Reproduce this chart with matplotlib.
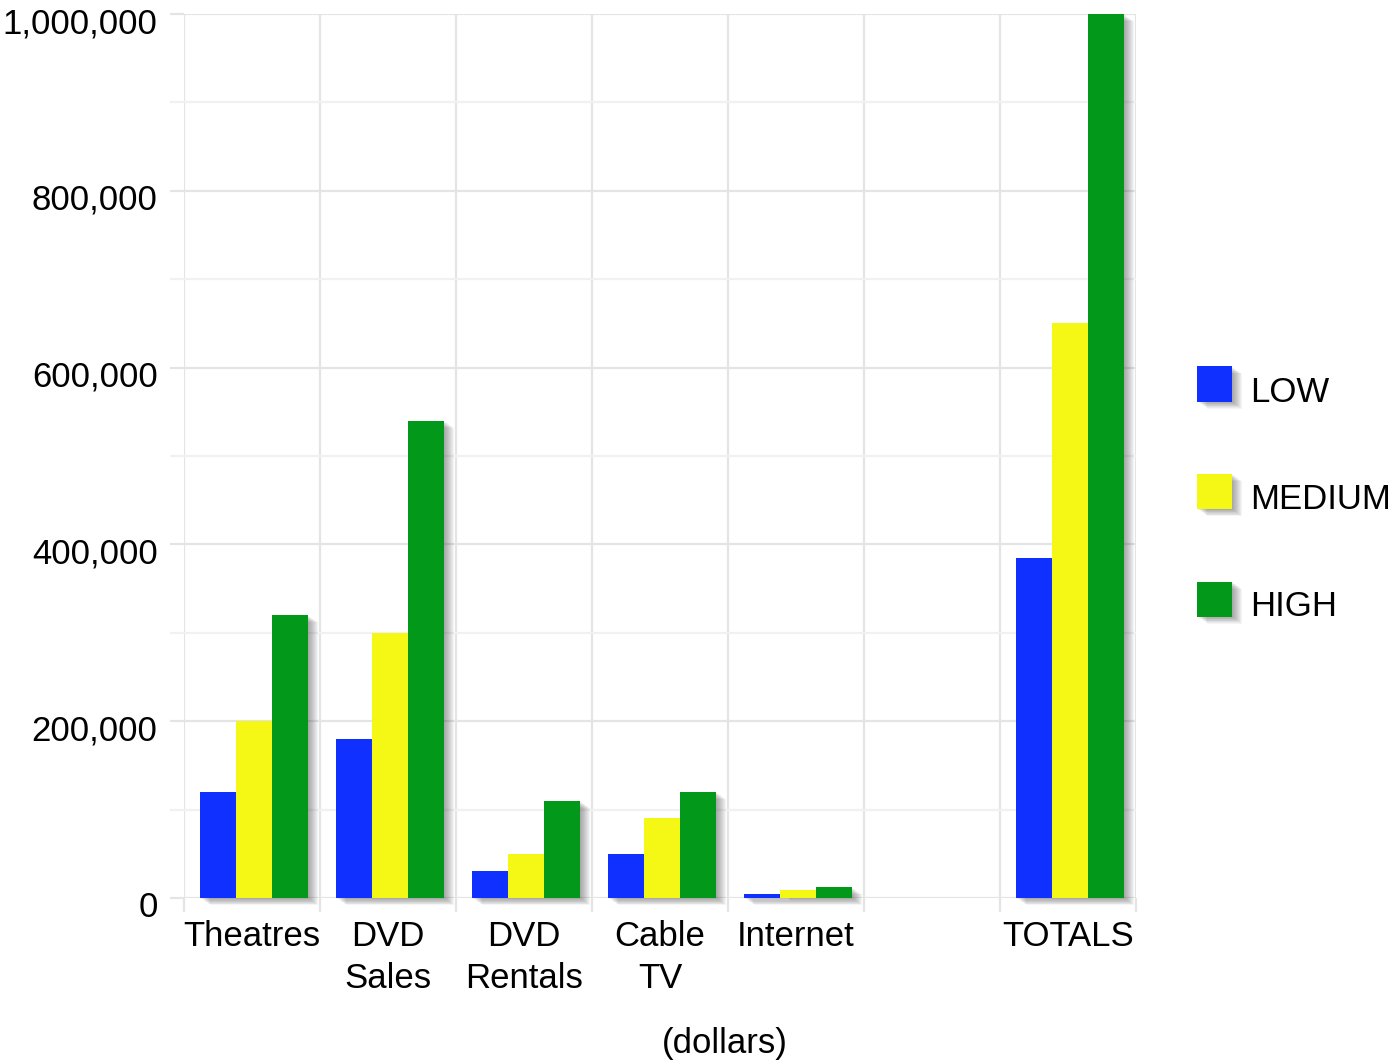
import matplotlib
matplotlib.use("Agg")
import matplotlib.pyplot as plt
import numpy as np
from matplotlib.patches import Rectangle
from matplotlib.transforms import ScaledTranslation
from matplotlib.ticker import FuncFormatter, MultipleLocator


categories = ["Theatres", "DVD\nSales", "DVD\nRentals", "Cable\nTV", "Internet", "", "TOTALS"]
series = ["LOW", "MEDIUM", "HIGH"]
low = [120000, 180000, 30000, 50000, 5000, 0, 385000]
medium = [200000, 300000, 50000, 90000, 9000, 0, 650000]
high = [320000, 540000, 110000, 120000, 12000, 0, 1000000]
colors = ["#1030ff", "#f4f814", "#02991a"]

plt.rcParams["font.family"] = ["Liberation Sans", "DejaVu Sans"]
plt.rcParams["font.size"] = 25

W, H = 1392, 1064
fig = plt.figure(figsize=(W / 100, H / 100), dpi=100)
ax = fig.add_axes([184 / W, 1 - 898 / H, (1136 - 184) / W, (898 - 14) / H])

x = np.arange(len(categories))
bw = 0.265
shift = 0.015


def shadow(xy, w, h, base, zorder, parent):
    # soft drop shadow: stacked offset copies with low alpha
    for k in range(1, 11):
        off = ScaledTranslation(k / 100, -0.7 * k / 100, fig.dpi_scale_trans)
        s = Rectangle(xy, w, h, transform=base + off, facecolor="#404040",
                      edgecolor="none", alpha=0.055, zorder=zorder, clip_on=False)
        parent.add_artist(s)


ax.set_xlim(-0.5, len(categories) - 0.5)
ax.set_ylim(0, 1000000)

for j, (vals, c) in enumerate(zip([low, medium, high], colors)):
    pos = x + shift + (j - 1) * bw
    bars = ax.bar(pos, vals, width=bw, color=c, edgecolor="none", zorder=3)
    for b in bars:
        if b.get_height() > 0:
            shadow(b.get_xy(), b.get_width(), b.get_height(), ax.transData, 2, ax)

ax.set_xlim(-0.5, len(categories) - 0.5)
ax.set_ylim(0, 1000000)

ax.yaxis.set_major_locator(MultipleLocator(200000))
ax.yaxis.set_minor_locator(MultipleLocator(100000))
ax.yaxis.set_major_formatter(FuncFormatter(lambda v, p: f"{int(v):,}"))
ax.set_xticks(x)
ax.set_xticklabels(categories, linespacing=1.35)
ax.set_xticks(np.arange(len(categories) + 1) - 0.5, minor=True)

ax.grid(axis="y", which="major", color="#e4e4e4", linewidth=1.6, zorder=0)
ax.grid(axis="y", which="minor", color="#f1f1f1", linewidth=1.6, zorder=0)
ax.grid(axis="x", which="minor", color="#e4e4e4", linewidth=1.6, zorder=0)
ax.set_axisbelow(True)
for s in ax.spines.values():
    s.set_visible(False)

ax.tick_params(axis="y", which="major", length=10, width=1.6, color="#e4e4e4", pad=9)
ax.tick_params(axis="y", which="minor", length=10, width=1.6, color="#f1f1f1")
ax.tick_params(axis="x", which="major", length=0, pad=16)
ax.tick_params(axis="x", which="minor", length=10, width=1.6, color="#e4e4e4")

for lab in ax.get_yticklabels():
    lab.set_transform(lab.get_transform() + ScaledTranslation(0, -0.06, fig.dpi_scale_trans))

fig.text(725 / W, 1 - 1043 / H, "(dollars)", ha="center", va="center")

# legend
for i, (name, c) in enumerate(zip(series, colors)):
    yc = 384 + i * 107.5
    xy = (1197 / W, 1 - (yc + 17.5) / H)
    fig.add_artist(Rectangle(xy, 35 / W, 35 / H, transform=fig.transFigure,
                             facecolor=c, edgecolor="none", zorder=3))
    shadow(xy, 35 / W, 35 / H, fig.transFigure, 2, fig)
    fig.text(1250 / W, 1 - (yc + 8) / H, name, ha="left", va="center")

fig.savefig("out.png", dpi=100)
